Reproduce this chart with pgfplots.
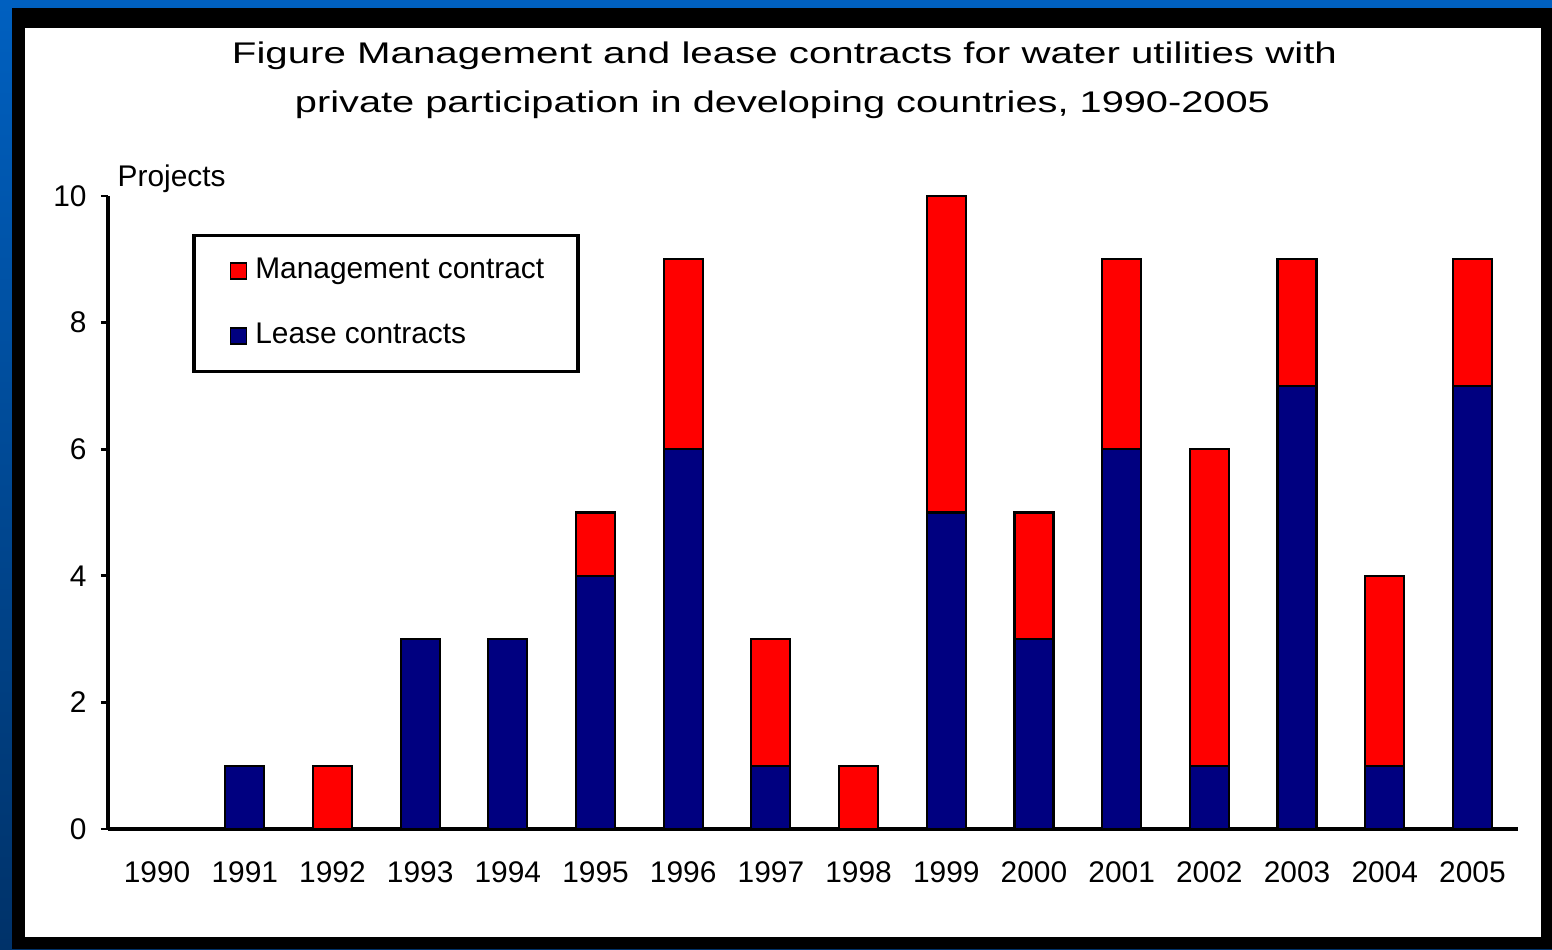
\documentclass[border=0pt]{standalone}
\usepackage{pgfplots}
\pgfplotsset{compat=1.18}
\usepackage{fontspec}
\setmainfont{Liberation Sans}
\usepackage{graphicx}
\definecolor{leaseblue}{RGB}{0,0,128}
\definecolor{mgmtred}{RGB}{255,0,0}
\definecolor{bgtop}{RGB}{0,96,192}
\definecolor{bgbot}{RGB}{0,50,105}
\newcommand{\chfont}{\fontsize{8.5}{10}\selectfont}
\begin{document}
\begin{tikzpicture}[x=1cm,y=1cm]
\path[use as bounding box] (0,0) rectangle (15.52,9.49);
\shade[top color=bgtop, bottom color=bgbot] (0,0) rectangle (15.52,9.49);
\fill[black] (0.12,0) rectangle (15.52,9.41);
\fill[white] (0.25,0.12) rectangle (15.41,9.21);
\begin{axis}[
  at={(1.08cm,1.20cm)}, anchor=south west,
  scale only axis, width=14.10cm, height=6.33cm,
  xmin=-0.56, xmax=15.52, ymin=0, ymax=10,
  ybar stacked, bar width=0.39cm,
  axis x line*=bottom, axis y line*=left,
  axis line style={line width=1pt, black},
  xtick={0,...,15},
  xticklabels={1990,1991,1992,1993,1994,1995,1996,1997,1998,1999,2000,2001,2002,2003,2004,2005},
  major x tick style={draw=none},
  ytick={0,2,4,6,8,10},
  tick align=outside, major tick length=0.07cm,
  major y tick style={line width=0.8pt, black},
  /pgf/number format/assume math mode=true,
  tick label style={font=\chfont},
  xticklabel style={yshift=-0.13cm},
  yticklabel style={xshift=-0.02cm},
  legend style={at={(axis description cs:0.0596,0.940)}, anchor=north west,
    draw=black, line width=1pt, font=\chfont,
    inner xsep=0.3cm, inner ysep=0.19cm, row sep=0.32cm,
    nodes={inner sep=1pt}},
  legend cell align=left,
  reverse legend,
  legend image code/.code={\path[draw=none,fill=none] (0cm,0cm) -- (0.28cm,0cm);\draw[#1, line width=0.4pt] (0.07cm,-0.08cm) rectangle (0.23cm,0.08cm);},
  clip=false,
]
\addplot[fill=leaseblue, draw=black, line width=0.6pt] coordinates {
(0,0) (1,1) (2,0) (3,3) (4,3) (5,4) (6,6) (7,1) (8,0) (9,5) (10,3) (11,6) (12,1) (13,7) (14,1) (15,7)};
\addlegendentry{Lease contracts}
\addplot[fill=mgmtred, draw=black, line width=0.6pt] coordinates {
(0,0) (1,0) (2,1) (3,0) (4,0) (5,1) (6,3) (7,2) (8,1) (9,5) (10,2) (11,3) (12,5) (13,2) (14,3) (15,2)};
\addlegendentry{Management contract}
\end{axis}
\node[anchor=west, inner sep=0, font=\chfont] at (1.17,7.70) {Projects};
\node[inner sep=0] at (7.845,8.93) {\resizebox{11.05cm}{\height}{\chfont Figure Management and lease contracts for water utilities with}};
\node[inner sep=0] at (7.825,8.44) {\resizebox{9.75cm}{\height}{\chfont private participation in developing countries, 1990-2005}};
\end{tikzpicture}
\end{document}
